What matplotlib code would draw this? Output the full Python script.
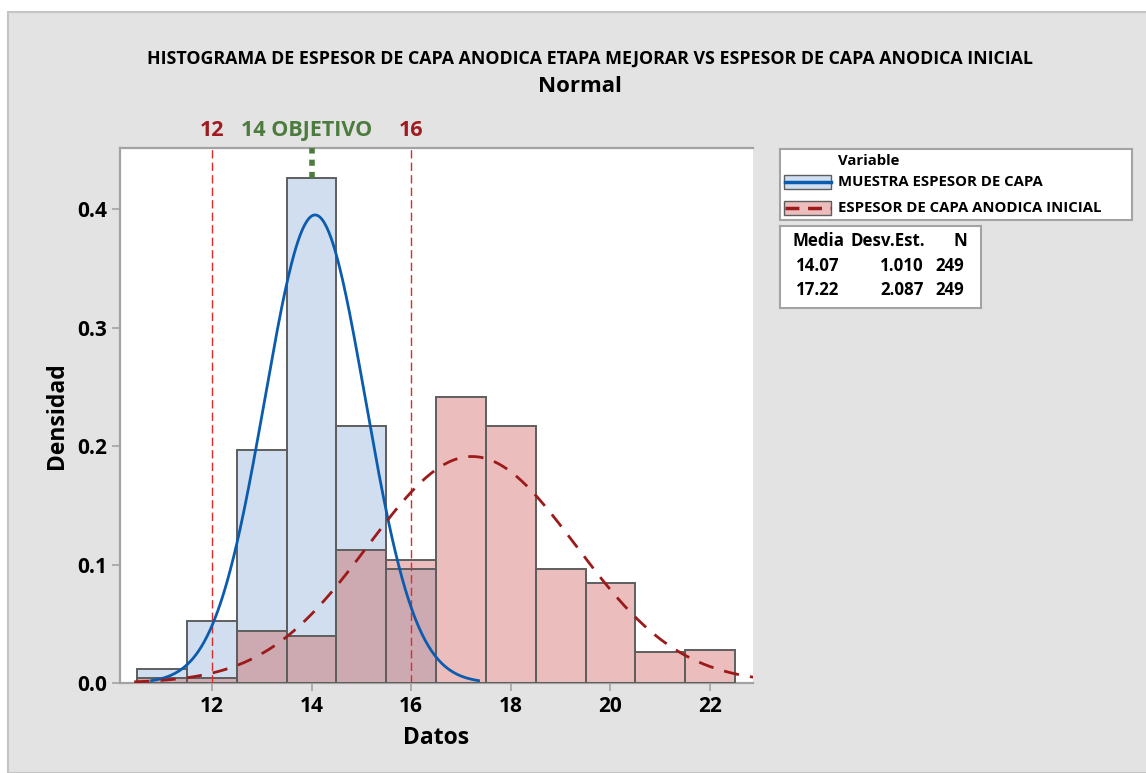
import numpy as np
import matplotlib
matplotlib.use("Agg")
import matplotlib.pyplot as plt
from matplotlib.patches import Rectangle
import matplotlib.transforms as mtransforms

plt.rcParams['font.family'] = ['Open Sans', 'DejaVu Sans']

# data
bin_centers = [11, 12, 13, 14, 15, 16, 17, 18, 19, 20, 21, 22]
dens_muestra = [0.012, 0.052, 0.197, 0.426, 0.217, 0.096, 0, 0, 0, 0, 0, 0]
dens_inicial = [0.004, 0.004, 0.044, 0.040, 0.112, 0.104, 0.241, 0.217, 0.096, 0.084, 0.026, 0.028]

names = ['MUESTRA ESPESOR DE CAPA', 'ESPESOR DE CAPA ANODICA INICIAL']
means = [14.07, 17.22]
stdevs = [1.010, 2.087]
n_obs = [249, 249]

spec_lines = [12, 16]
target = 14

x_ticks = [12, 14, 16, 18, 20, 22]
y_ticks = [0.0, 0.1, 0.2, 0.3, 0.4]

# colours
blue_fill = '#D0DEEF'
red_fill = '#EBBDBD'
overlap_fill = '#CDA9B1'
edge_col = '#5E5E5E'
blue_line = '#0B5CAF'
red_line = '#9C1A1A'
spec_col = '#E02A2A'
green_col = '#4B7B3D'
label_red = '#A01B1F'
bg = '#E3E3E3'
spine_col = '#A3A3A3'


def normal_pdf(x, mu, sd):
    return np.exp(-0.5 * ((x - mu) / sd) ** 2) / (sd * np.sqrt(2 * np.pi))


W, H = 1146, 773
fig = plt.figure(figsize=(W / 100, H / 100), dpi=100, facecolor='white')
fig.patches.append(Rectangle((8 / W, 0), 1, 1 - 12 / H, transform=fig.transFigure,
                             facecolor=bg, edgecolor='#C4C4C4', linewidth=1.5, zorder=-10))

ax = fig.add_axes([120 / W, 1 - 683 / H, (753 - 120) / W, (683 - 148) / H])
ax.set_facecolor('white')

centers = np.array(bin_centers, dtype=float)
b = np.array(dens_muestra)
r = np.array(dens_inicial)
overlap = np.minimum(b, r)

ax.bar(centers, r, width=1, color=red_fill, linewidth=0, zorder=2)
ax.bar(centers[b > 0], b[b > 0], width=1, color=blue_fill, linewidth=0, zorder=2)
ax.bar(centers, overlap, width=1, color=overlap_fill, linewidth=0, zorder=3)
ax.bar(centers, r, width=1, fill=False, edgecolor=edge_col, linewidth=1.4, zorder=4)
ax.bar(centers[b > 0], b[b > 0], width=1, fill=False, edgecolor=edge_col, linewidth=1.4, zorder=4)

# fitted normal curves
xb = np.linspace(means[0] - 3.25 * stdevs[0], means[0] + 3.25 * stdevs[0], 300)
ax.plot(xb, normal_pdf(xb, means[0], stdevs[0]), color=blue_line, lw=2, zorder=6)
xr = np.linspace(means[1] - 3.25 * stdevs[1], 23.5, 400)
ax.plot(xr, normal_pdf(xr, means[1], stdevs[1]), color=red_line, lw=2,
        linestyle=(0, (5.5, 4)), zorder=6)

ax.set_xlim(10.153, 22.863)
ax.set_ylim(0, 0.4515)

# reference lines
for v in spec_lines:
    ax.axvline(v, color=spec_col, lw=1, linestyle=(0, (6, 3)), zorder=5)
ax.plot([target, target], [b[bin_centers.index(target)], 0.4515], color=green_col,
        lw=4, linestyle=(0, (1.1, 1.1)), zorder=5, clip_on=False)

trans = mtransforms.blended_transform_factory(ax.transData, ax.transAxes)
for v in spec_lines:
    ax.text(v, 1.032, str(v), transform=trans, ha='center', va='center',
            fontsize=15.5, fontweight='bold', color=label_red)
ax.text(target - 0.09, 1.032, '14 OBJETIVO', transform=trans, ha='center', va='center',
        fontsize=15.5, fontweight='bold', color=green_col)

for s in ['top', 'right']:
    ax.spines[s].set_visible(False)
for s in ['left', 'bottom']:
    ax.spines[s].set_color(spine_col)
    ax.spines[s].set_linewidth(1.6)
ax.plot([0, 1], [1, 1], transform=ax.transAxes, color=spine_col, lw=1.6, clip_on=False)

ax.set_xticks(x_ticks)
ax.set_yticks(y_ticks)
ax.set_yticklabels([f'{t:.1f}' for t in y_ticks])
ax.tick_params(colors=spine_col, labelcolor='black', labelsize=15, length=6, width=1.2)
ax.tick_params(axis='y', pad=3)
for lab in ax.get_xticklabels() + ax.get_yticklabels():
    lab.set_fontweight('bold')

ax.set_xlabel('Datos', fontsize=16.5, fontweight='bold', labelpad=6)
ax.set_ylabel('Densidad', fontsize=16.5, fontweight='bold', labelpad=6)

fig.text(590 / W, 1 - 59 / H,
         'HISTOGRAMA DE ESPESOR DE CAPA ANODICA ETAPA MEJORAR VS ESPESOR DE CAPA ANODICA INICIAL',
         ha='center', va='center', fontsize=12.8, fontweight='bold')
fig.text(580 / W, 1 - 86 / H, 'Normal', ha='center', va='center', fontsize=16, fontweight='bold')

# legend box
lax = fig.add_axes([780 / W, 1 - 220 / H, (1132 - 780) / W, (220 - 149) / H])
lax.set_xlim(0, 352)
lax.set_ylim(71, 0)
lax.set_xticks([])
lax.set_yticks([])
for s in lax.spines.values():
    s.set_color(spine_col)
    s.set_linewidth(1.5)
lax.text(58, 12, 'Variable', fontsize=10.7, fontweight='bold', va='center')
for i, (name, yy) in enumerate(zip(names, [33, 59])):
    lax.add_patch(Rectangle((4, yy - 7), 47, 14, facecolor=[blue_fill, red_fill][i],
                            edgecolor=edge_col, linewidth=1))
    lax.plot([5, 51], [yy, yy], color=[blue_line, red_line][i], lw=2.5,
             linestyle='-' if i == 0 else (0, (4, 2.5)))
    lax.text(58, yy, name, fontsize=10.7, fontweight='bold', va='center')

# stats table
sax = fig.add_axes([780 / W, 1 - 308 / H, (981 - 780) / W, (308 - 226) / H])
sax.set_xlim(0, 201)
sax.set_ylim(82, 0)
sax.set_xticks([])
sax.set_yticks([])
for s in sax.spines.values():
    s.set_color(spine_col)
    s.set_linewidth(1.5)
fs = 12.2
sax.text(38, 15, 'Media', fontsize=fs, fontweight='bold', ha='center', va='center')
sax.text(145, 15, 'Desv.Est.', fontsize=fs, fontweight='bold', ha='right', va='center')
sax.text(187, 15, 'N', fontsize=fs, fontweight='bold', ha='right', va='center')
for m, sd, n, yy in zip(means, stdevs, n_obs, [40, 64]):
    sax.text(38, yy, f'{m:.2f}', fontsize=fs, fontweight='bold', ha='center', va='center')
    sax.text(144, yy, f'{sd:.3f}', fontsize=fs, fontweight='bold', ha='right', va='center')
    sax.text(184, yy, f'{n}', fontsize=fs, fontweight='bold', ha='right', va='center')

fig.savefig('out.png', dpi=100, facecolor=fig.get_facecolor())
